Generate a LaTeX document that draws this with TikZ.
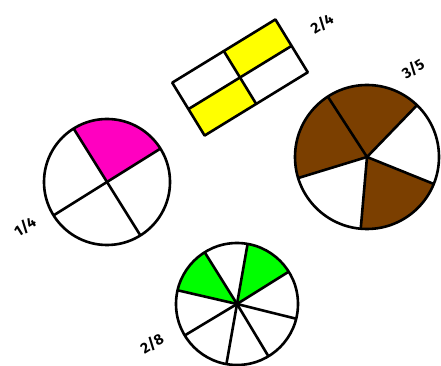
\documentclass[tikz,border=0pt]{standalone}
\usepackage{fontspec}
\setmainfont{Fira Sans}
\definecolor{fracpink}{HTML}{FF00C0}
\definecolor{fracyellow}{HTML}{FFFF00}
\definecolor{fracbrown}{HTML}{7B3F00}
\definecolor{fracgreen}{HTML}{00FF00}
\tikzset{
  outline/.style={line width=2.6pt,black,line join=round},
  fraclabel/.style={font=\fontsize{15}{15}\selectfont\bfseries,rotate=32,inner sep=1pt}
}

\begin{document}
\begin{tikzpicture}[x=1pt,y=1pt]
  \useasboundingbox (0,0) rectangle (441,366);

  % quarter circle
  \coordinate (qc) at (107,184);
  \fill[fracpink] (qc) -- ++(32:63) arc[start angle=32,end angle=122,radius=63] -- cycle;
  \foreach \a in {32,122,212,302}
    \draw[outline] (qc) -- ++(\a:63);
  \draw[outline] (qc) circle[radius=63];
  \node[fraclabel] (quarterlabel) at (25,139) {1/4};

  % rectangle in four parts
  \begin{scope}[shift={(240,288.5)},rotate=31.5]
    \fill[fracyellow] (0,0) rectangle (60.5,31);
    \fill[fracyellow] (0,0) rectangle (-60.5,-31);
    \draw[outline] (-60.5,-31) rectangle (60.5,31);
    \draw[outline] (-60.5,0) -- (60.5,0);
    \draw[outline] (0,-31) -- (0,31);
  \end{scope}
  \node[fraclabel] (rectlabel) at (322,342) {2/4};

  % fifths
  \coordinate (fc) at (367,209);
  \fill[fracbrown] (fc) -- ++(46:72) arc[start angle=46,end angle=197,radius=72] -- cycle;
  \fill[fracbrown] (fc) -- ++(265:72) arc[start angle=265,end angle=338,radius=72] -- cycle;
  \foreach \a in {46,123,197,265,338}
    \draw[outline] (fc) -- ++(\a:72);
  \draw[outline] (fc) circle[radius=72];
  \node[fraclabel] (fifthlabel) at (413,297) {3/5};

  % eighths
  \coordinate (ec) at (237,62);
  \fill[fracgreen] (ec) -- ++(32:61) arc[start angle=32,end angle=80,radius=61] -- cycle;
  \fill[fracgreen] (ec) -- ++(122:61) arc[start angle=122,end angle=167,radius=61] -- cycle;
  \foreach \a in {32,80,122,167,211,260,301,346}
    \draw[outline] (ec) -- ++(\a:61);
  \draw[outline] (ec) circle[radius=61];
  \node[fraclabel] (eighthlabel) at (152,22) {2/8};
\end{tikzpicture}
\end{document}
